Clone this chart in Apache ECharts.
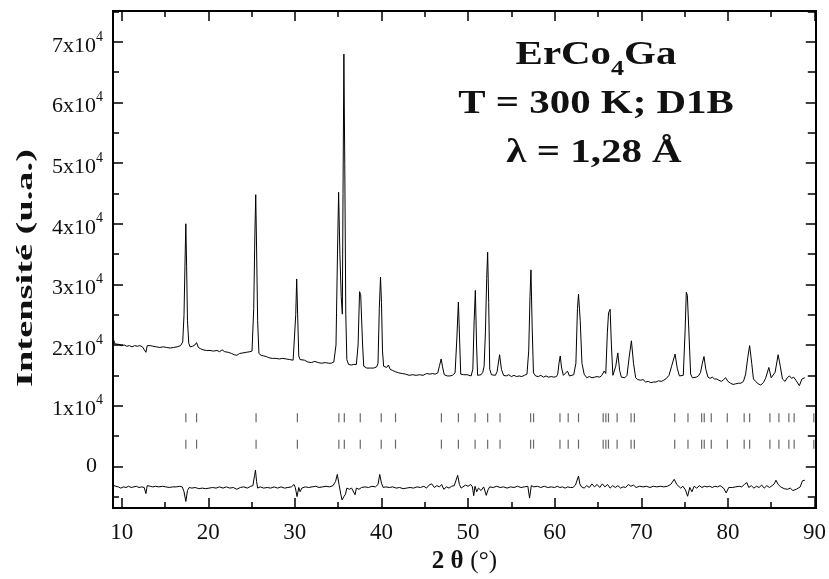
<!DOCTYPE html>
<html><head><meta charset="utf-8">
<script src="https://cdn.jsdelivr.net/npm/echarts@6/dist/echarts.min.js"></script>
<style>html,body{margin:0;padding:0;background:#fff}#c{width:829px;height:579px}</style>
</head><body><div id="c"></div>
<script>
// Observed neutron diffraction pattern (2θ in degrees, intensity)
const observed = [
[9.0,20300],[9.05,21000],[9.2,20200],[9.4,20000],[9.7,20100],[10.0,19900],[10.3,20000],[10.6,19800],[10.9,19900],[11.2,19700],[11.5,19900],[11.8,19800],[12.1,19900],[12.4,19700],[12.6,19800],[12.8,18800],[12.95,19900],[13.3,19900],[13.6,19800],[14.0,19700],[14.4,19600],[14.8,19700],[15.2,19600],[15.6,19500],[16.0,19600],[16.4,19700],[16.8,19900],[17.05,20500],[17.2,25000],[17.32,34000],[17.41,40000],[17.5,33000],[17.6,24000],[17.75,20300],[17.9,19700],[18.2,19800],[18.45,20000],[18.65,20400],[18.85,19600],[19.1,19400],[19.4,19200],[19.8,19100],[20.2,19100],[20.6,19000],[21.0,19100],[21.3,18900],[21.6,19200],[21.9,18900],[22.3,18800],[22.7,18600],[23.0,18400],[23.3,18300],[23.6,18600],[24.0,18700],[24.4,18800],[24.8,18900],[25.05,19000],[25.25,26000],[25.38,38000],[25.48,44800],[25.58,36000],[25.7,24000],[25.85,18600],[26.1,18300],[26.4,18200],[26.7,18100],[27.0,17900],[27.4,17800],[27.8,17800],[28.2,17700],[28.6,17800],[29.0,17700],[29.4,17600],[29.8,17500],[29.95,17800],[30.1,25000],[30.21,30900],[30.32,25000],[30.45,18200],[30.6,17600],[30.8,17300],[31.1,17500],[31.5,17200],[31.9,17100],[32.3,17300],[32.7,17100],[33.1,17000],[33.5,17100],[33.9,17000],[34.2,17000],[34.5,17200],[34.75,20000],[34.92,35000],[35.05,45200],[35.2,35000],[35.35,28000],[35.48,25100],[35.56,45000],[35.66,68000],[35.76,50000],[35.88,25000],[36.0,17600],[36.2,16800],[36.5,16700],[36.8,16800],[37.1,16800],[37.3,20000],[37.47,28800],[37.6,28300],[37.7,28000],[37.82,20000],[37.95,16500],[38.3,16200],[38.7,16200],[39.1,16200],[39.45,16400],[39.6,17000],[39.75,26000],[39.89,31200],[40.0,27000],[40.12,19000],[40.25,16500],[40.45,16600],[40.6,16300],[40.8,16700],[41.0,16000],[41.3,15800],[41.6,15600],[42.0,15400],[42.4,15300],[42.8,15200],[43.2,15000],[43.6,15100],[44.0,15000],[44.4,15100],[44.8,15000],[45.2,15300],[45.6,15200],[45.9,15300],[46.2,15200],[46.5,15400],[46.7,16600],[46.89,17700],[47.05,16400],[47.25,15100],[47.6,14900],[47.9,14900],[48.2,15000],[48.5,15400],[48.7,21000],[48.88,27100],[49.02,21000],[49.15,15200],[49.3,15000],[49.5,15100],[49.7,15300],[49.9,15100],[50.1,15000],[50.35,14900],[50.55,16000],[50.7,24000],[50.84,29000],[50.98,20000],[51.1,15000],[51.3,15200],[51.5,15100],[51.7,15500],[51.85,16500],[52.0,22000],[52.15,31000],[52.26,35300],[52.38,27000],[52.5,16000],[52.7,15100],[52.9,15000],[53.15,15000],[53.35,15600],[53.64,18400],[53.85,16000],[54.1,15000],[54.4,14900],[54.7,15100],[55.0,14800],[55.3,15000],[55.6,14800],[55.9,14900],[56.2,14800],[56.5,15000],[56.8,15200],[57.0,19000],[57.15,28000],[57.26,32400],[57.4,23000],[57.55,15400],[57.8,14900],[58.1,14800],[58.4,15000],[58.7,14700],[59.0,14900],[59.3,14700],[59.6,14800],[59.9,14700],[60.2,14800],[60.35,15200],[60.5,17000],[60.64,18200],[60.8,16200],[61.0,15000],[61.2,15300],[61.48,15700],[61.7,14900],[61.9,15000],[62.2,15100],[62.45,17000],[62.63,26000],[62.75,28400],[62.83,28600],[62.95,24000],[63.15,17000],[63.4,15200],[63.7,14600],[64.0,14800],[64.3,14600],[64.6,14700],[64.9,14800],[65.2,14700],[65.45,15000],[65.71,15700],[65.9,15300],[66.08,22000],[66.22,25300],[66.3,25500],[66.4,25900],[66.55,20000],[66.72,15000],[66.85,14800],[67.05,16500],[67.29,18700],[67.5,15800],[67.7,14700],[67.9,14800],[68.1,14600],[68.35,15000],[68.6,18000],[68.86,20700],[69.1,17000],[69.35,14600],[69.6,14300],[69.9,14200],[70.2,14300],[70.5,13900],[70.8,14000],[71.1,13800],[71.4,13900],[71.7,13900],[72.0,14100],[72.3,14000],[72.6,14200],[72.9,14500],[73.2,15000],[73.5,16500],[73.9,18500],[74.15,16200],[74.4,14900],[74.6,14700],[74.85,15000],[75.05,22000],[75.2,28700],[75.32,28200],[75.5,22000],[75.7,15200],[75.9,14600],[76.1,14400],[76.35,14700],[76.6,14900],[76.85,15500],[77.05,17000],[77.24,18100],[77.45,16000],[77.7,14700],[77.95,14500],[78.2,14700],[78.45,14400],[78.7,14400],[78.95,14200],[79.25,14000],[79.5,14300],[79.74,14600],[80.0,14000],[80.3,13700],[80.6,13500],[80.9,13600],[81.2,13700],[81.5,13700],[81.8,14000],[82.05,15200],[82.3,18000],[82.51,19900],[82.75,17000],[82.95,14400],[83.2,14000],[83.5,13600],[83.8,13400],[84.1,13800],[84.35,14500],[84.73,16300],[85.0,14600],[85.2,14400],[85.45,15500],[85.8,18400],[86.05,16500],[86.3,14400],[86.6,14000],[86.85,14600],[87.1,14900],[87.35,14500],[87.6,14700],[87.85,14200],[88.05,13900],[88.25,13300],[88.55,14400],[88.88,14600]
];
// Difference curve (observed - calculated, offset)
const difference = [
[9.0,-2800],[9.1,-3200],[9.3,-3500],[9.6,-3400],[9.9,-3600],[10.2,-3400],[10.5,-3500],[10.8,-3300],[11.1,-3500],[11.4,-3400],[11.7,-3300],[12.0,-3500],[12.3,-3400],[12.6,-3500],[12.8,-4500],[12.95,-3200],[13.3,-3300],[13.6,-3400],[13.9,-3300],[14.3,-3400],[14.7,-3300],[15.1,-3400],[15.5,-3500],[15.9,-3400],[16.3,-3400],[16.7,-3300],[17.0,-3400],[17.2,-4200],[17.41,-5800],[17.6,-4000],[17.8,-3500],[18.1,-3600],[18.5,-3500],[18.9,-3700],[19.3,-3600],[19.7,-3700],[20.1,-3600],[20.5,-3500],[20.9,-3600],[21.3,-3400],[21.7,-3600],[22.1,-3400],[22.5,-3600],[22.9,-3500],[23.3,-3800],[23.7,-3500],[24.1,-3400],[24.5,-3600],[24.9,-3300],[25.15,-3200],[25.35,-1500],[25.45,-650],[25.58,-2500],[25.7,-3600],[26.0,-3400],[26.4,-3600],[26.8,-3500],[27.2,-3600],[27.6,-3400],[28.0,-3600],[28.4,-3400],[28.8,-3600],[29.2,-3500],[29.6,-3400],[29.9,-3000],[30.05,-3500],[30.25,-5000],[30.45,-3500],[30.6,-4200],[30.8,-3600],[31.2,-3400],[31.6,-3500],[32.0,-3400],[32.4,-3300],[32.8,-3500],[33.2,-3400],[33.6,-3300],[34.0,-3400],[34.4,-3200],[34.7,-2500],[34.9,-1350],[35.1,-3000],[35.3,-4600],[35.45,-5550],[35.66,-5000],[35.85,-4600],[36.0,-3600],[36.3,-3800],[36.55,-3600],[36.75,-3300],[36.95,-4700],[37.1,-3600],[37.4,-3800],[37.7,-3500],[38.1,-3400],[38.5,-3500],[38.9,-3300],[39.3,-3400],[39.6,-3000],[39.8,-1350],[40.0,-2800],[40.2,-3500],[40.5,-3400],[40.9,-3500],[41.3,-3400],[41.7,-3600],[42.1,-3500],[42.5,-3700],[42.9,-3600],[43.3,-3500],[43.7,-3600],[44.1,-3400],[44.5,-3500],[44.9,-3300],[45.2,-3600],[45.5,-3100],[45.8,-2900],[46.1,-3500],[46.4,-3200],[46.7,-3400],[46.95,-3000],[47.2,-3800],[47.5,-3400],[47.8,-3600],[48.1,-3300],[48.4,-3200],[48.6,-3300],[48.8,-1500],[49.0,-3000],[49.2,-3600],[49.4,-3300],[49.7,-3100],[50.0,-3300],[50.3,-3000],[50.5,-3400],[50.65,-4850],[50.8,-3300],[51.0,-4200],[51.2,-3600],[51.5,-4000],[51.8,-3400],[52.1,-4800],[52.3,-3900],[52.5,-3400],[52.9,-3500],[53.3,-3300],[53.7,-3500],[54.1,-3400],[54.5,-3600],[54.9,-3400],[55.3,-3500],[55.7,-3300],[56.1,-3500],[56.5,-3400],[56.9,-3300],[57.1,-5250],[57.3,-3200],[57.6,-3400],[58.0,-3300],[58.4,-3500],[58.8,-3300],[59.2,-3500],[59.6,-3400],[60.0,-3500],[60.3,-3300],[60.6,-3500],[60.9,-3400],[61.2,-3600],[61.5,-3400],[61.8,-3500],[62.1,-3500],[62.4,-3100],[62.6,-2800],[62.75,-1600],[62.9,-2900],[63.1,-3400],[63.4,-3600],[63.7,-3200],[64.0,-3500],[64.3,-2900],[64.6,-3400],[64.9,-3000],[65.2,-3500],[65.5,-2900],[65.8,-3400],[66.1,-3000],[66.4,-3600],[66.7,-3200],[67.0,-3500],[67.3,-3200],[67.6,-3600],[67.9,-3400],[68.2,-3500],[68.5,-3000],[68.8,-3300],[69.1,-3100],[69.4,-3500],[69.8,-3300],[70.2,-3400],[70.6,-3300],[71.0,-3500],[71.4,-3300],[71.8,-3400],[72.2,-3300],[72.6,-3400],[73.0,-3300],[73.4,-3000],[73.8,-2150],[74.1,-3000],[74.3,-2800],[74.55,-3600],[74.8,-3300],[75.1,-3900],[75.35,-4950],[75.6,-3500],[75.85,-4200],[76.1,-3300],[76.4,-3600],[76.7,-3200],[77.0,-3500],[77.3,-3300],[77.6,-3400],[77.9,-3300],[78.2,-3500],[78.5,-3300],[78.8,-3400],[79.1,-3200],[79.5,-3600],[79.8,-4400],[80.1,-3500],[80.5,-3500],[80.9,-3400],[81.3,-3300],[81.6,-3400],[81.9,-3000],[82.2,-2700],[82.4,-3500],[82.7,-3200],[83.0,-3600],[83.3,-3300],[83.6,-3500],[83.9,-3100],[84.2,-3600],[84.5,-3200],[84.8,-3500],[85.1,-3200],[85.35,-2900],[85.55,-2300],[85.8,-3000],[86.1,-3400],[86.5,-3700],[86.9,-3800],[87.2,-3600],[87.5,-4000],[87.9,-3800],[88.1,-3900],[88.35,-3400],[88.6,-2400],[88.88,-2300]
];
// Bragg reflection positions (2θ), drawn as two rows of tick marks
const braggPositions = [17.41,18.65,25.52,30.29,35.08,35.71,37.55,39.97,41.62,46.92,48.88,50.81,52.26,53.69,57.22,57.56,60.61,61.56,62.75,65.60,65.91,66.21,67.21,68.82,69.20,73.86,75.39,76.97,77.27,78.08,79.93,81.88,82.51,84.85,85.89,87.04,87.65,89.92];
const braggRowLevels = [8000, 3650];
// Axis ticks
const xMajorTicks = [10,20,30,40,50,60,70,80,90];
const xMinorTicks = [15,25,35,45,55,65,75,85];
const yMajorTicks = [0,10000,20000,30000,40000,50000,60000,70000];
const yMinorTicks = [-5000,5000,15000,25000,35000,45000,55000,65000,75000];
const titleFormula = ['ErCo', '4', 'Ga'];
const titleLines = ['T = 300 K; D1B', 'λ = 1,28 Å'];
const xTitle = ['2 θ', '(°)'];
const yTitle = 'Intensité (u.a.)';

const X_MIN = 9.0, X_MAX = 90.15, Y_MIN = -6900, Y_MAX = 75100;
const SERIF = '"Liberation Serif","Times New Roman",serif';

function xAxisDef(pos, ticks, len, withLabels) {
  const a = {
    type: 'value', position: pos, min: X_MIN, max: X_MAX,
    axisLine: {show: true, onZero: false, lineStyle: {color: '#000', width: 2}},
    axisTick: {show: true, inside: true, length: len, customValues: ticks, lineStyle: {color: '#000', width: 1.5}},
    axisLabel: {show: false},
    splitLine: {show: false}
  };
  if (withLabels) {
    a.axisLabel = {show: true, customValues: xMajorTicks, margin: 13, color: '#111',
      fontFamily: SERIF, fontSize: 23, formatter: v => String(v)};
    a.name = '{b|' + xTitle[0] + '}  {r|' + xTitle[1] + '}';
    a.nameLocation = 'middle';
    a.nameGap = 39;
    a.nameTextStyle = {rich: {
      b: {fontFamily: SERIF, fontSize: 25, fontWeight: 'bold', color: '#111'},
      r: {fontFamily: SERIF, fontSize: 25, color: '#111'}
    }};
  }
  return a;
}
function yAxisDef(pos, ticks, len, withLabels) {
  const a = {
    type: 'value', position: pos, min: Y_MIN, max: Y_MAX,
    axisLine: {show: true, onZero: false, lineStyle: {color: '#000', width: 2}},
    axisTick: {show: true, inside: true, length: len, customValues: ticks, lineStyle: {color: '#000', width: 1.5}},
    axisLabel: {show: false},
    splitLine: {show: false}
  };
  if (withLabels) {
    a.axisLabel = {show: true, customValues: yMajorTicks, margin: 10, color: '#111',
      formatter: v => v === 0 ? '{z|0}' : '{n|' + (v / 10000) + 'x10}{s|4}',
      rich: {
        n: {fontFamily: SERIF, fontSize: 22, color: '#111', lineHeight: 30, verticalAlign: 'bottom'},
        z: {fontFamily: SERIF, fontSize: 22, color: '#111', lineHeight: 30, verticalAlign: 'middle', padding: [0, 6, 0, 0]},
        s: {fontFamily: SERIF, fontSize: 14, color: '#111', lineHeight: 30, verticalAlign: 'top', padding: [3, 0, 0, 0]}
      }};
  }
  return a;
}

const braggData = [];
braggRowLevels.forEach(level => braggPositions.forEach(p => braggData.push([p, level])));

const chart = echarts.init(document.getElementById('c'), null, {renderer: 'canvas'});
chart.setOption({
  animation: false,
  backgroundColor: '#fff',
  grid: {left: 113, right: 12, top: 11, bottom: 61, containLabel: false},
  xAxis: [
    xAxisDef('bottom', xMajorTicks, 10, true),
    xAxisDef('bottom', xMinorTicks, 6, false),
    xAxisDef('top', xMajorTicks, 10, false),
    xAxisDef('top', xMinorTicks, 6, false)
  ],
  yAxis: [
    yAxisDef('left', yMajorTicks, 10, true),
    yAxisDef('left', yMinorTicks, 6, false),
    yAxisDef('right', yMajorTicks, 10, false),
    yAxisDef('right', yMinorTicks, 8, false)
  ],
  series: [
    {type: 'line', name: 'Observed', data: observed, xAxisIndex: 0, yAxisIndex: 0,
      showSymbol: false, symbol: 'none', lineStyle: {color: '#000', width: 1}, z: 3},
    {type: 'line', name: 'Difference', data: difference, xAxisIndex: 0, yAxisIndex: 0,
      showSymbol: false, symbol: 'none', lineStyle: {color: '#000', width: 1}, z: 3},
    {type: 'scatter', name: 'Bragg', data: braggData, xAxisIndex: 0, yAxisIndex: 0,
      symbol: 'rect', symbolSize: [1.2, 9], itemStyle: {color: '#444'}, z: 2}
  ],
  graphic: [
    {type: 'text', x: 596, y: 52, scaleX: 1.24, style: {
      text: '{a|' + titleFormula[0] + '}{s|' + titleFormula[1] + '}{a|' + titleFormula[2] + '}',
      align: 'center', verticalAlign: 'middle',
      rich: {
        a: {fontFamily: SERIF, fontSize: 33, fontWeight: 'bold', fill: '#111', lineHeight: 40, verticalAlign: 'bottom'},
        s: {fontFamily: SERIF, fontSize: 21, fontWeight: 'bold', fill: '#111', lineHeight: 40, verticalAlign: 'bottom', padding: [0, 0, -8, 0]}
      }}},
    {type: 'text', x: 596, y: 104, scaleX: 1.24, style: {text: titleLines[0], align: 'center', verticalAlign: 'middle',
      font: 'bold 33px ' + SERIF, fill: '#111'}},
    {type: 'text', x: 594, y: 153, scaleX: 1.24, style: {text: titleLines[1], align: 'center', verticalAlign: 'middle',
      font: 'bold 33px ' + SERIF, fill: '#111'}},
    {type: 'text', x: 26, y: 268, rotation: Math.PI / 2, scaleX: 1.6, style: {text: yTitle, align: 'center', verticalAlign: 'middle',
      font: 'bold 24px ' + SERIF, fill: '#111'}}
  ]
});
</script></body></html>
